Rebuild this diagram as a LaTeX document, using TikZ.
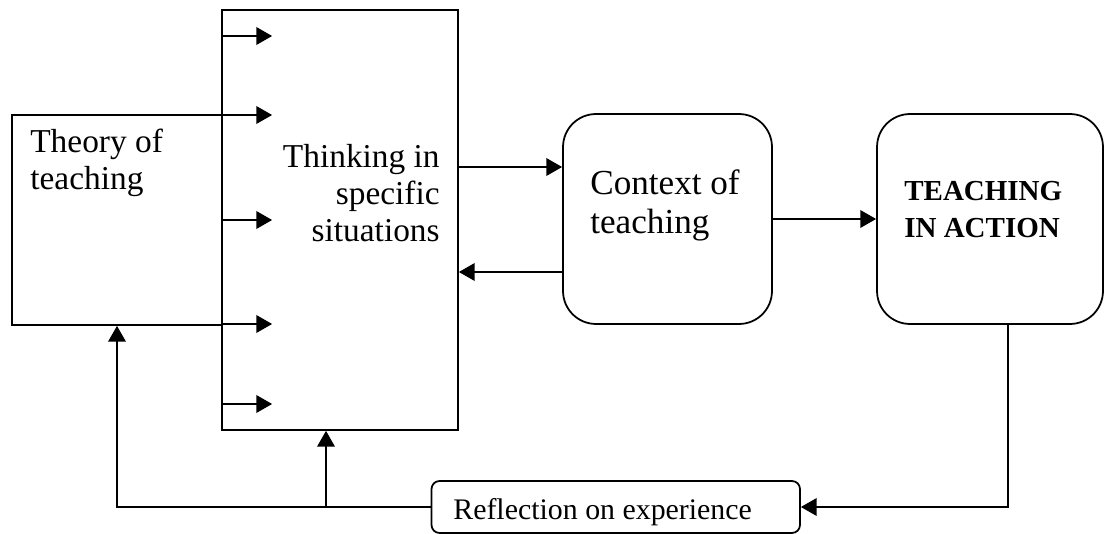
\documentclass[tikz,border=0pt]{standalone}
\usepackage{fontspec}
\setmainfont{Liberation Serif}
\usetikzlibrary{arrows.meta}
\tikzset{
	box/.style={draw,line width=1pt,minimum height=4.2cm,inner sep=0pt},
	roundbox/.style={box,rounded corners=0.66cm},
	label text/.style={inner sep=0pt,align=left},
	flow/.style={line width=1pt,-{Triangle[length=9pt,width=10pt]}},
	plain/.style={line width=1pt}
}
\begin{document}
\begin{tikzpicture}[x=0.02cm,y=-0.02cm]
\useasboundingbox (0,0) rectangle (1106,534);
% boxes
\node[box,minimum width=4.2cm] (theory) at (117,220) {};
\node[box,minimum width=4.72cm,minimum height=8.4cm] (thinking) at (340,220) {};
\node[roundbox,minimum width=4.18cm] (context) at (667.5,219) {};
\node[roundbox,minimum width=4.52cm] (action) at (990,219) {};
\node[box,rounded corners=0.16cm,minimum width=7.37cm,minimum height=1.04cm] (reflection) at (615.75,507) {};
% texts (base = last line)
\node[label text,anchor=base west,font=\fontsize{19}{20.5}\selectfont] (theorytxt) at (30,189) {Theory of\\teaching};
\node[label text,align=right,anchor=base east,font=\fontsize{19}{21}\selectfont] (thinkingtxt) at (440,241) {Thinking in\\specific\\situations};
\node[label text,anchor=base west,font=\fontsize{20}{22}\selectfont] (contexttxt) at (590,233) {Context of\\teaching};
\node[label text,anchor=base west,font=\fontsize{16.5}{20.5}\selectfont\bfseries] (actiontxt) at (904,237) {TEACHING\\IN ACTION};
\node[label text,anchor=base west,font=\fontsize{17}{20}\selectfont] (reflectiontxt) at (453,519) {Reflection on experience};
% arrows into thinking
\foreach \y in {36,115,220,324,404}
	\draw[flow] (thinking.west |- 0,\y) -- ++(51,0);
\draw[flow] (thinking.east |- 0,167) -- (context.west |- 0,167);
\draw[flow] (context.west |- 0,272) -- (thinking.east |- 0,272);
\draw[flow] (context.east) -- (action.west);
% feedback loop
\draw[flow] (action.south -| 1008,0) |- (reflection.east);
\draw[flow] (reflection.west) -| (theory.south);
\coordinate (fork) at (326,507);
\draw[flow] (fork) -- (fork |- thinking.south);
\end{tikzpicture}
\end{document}
